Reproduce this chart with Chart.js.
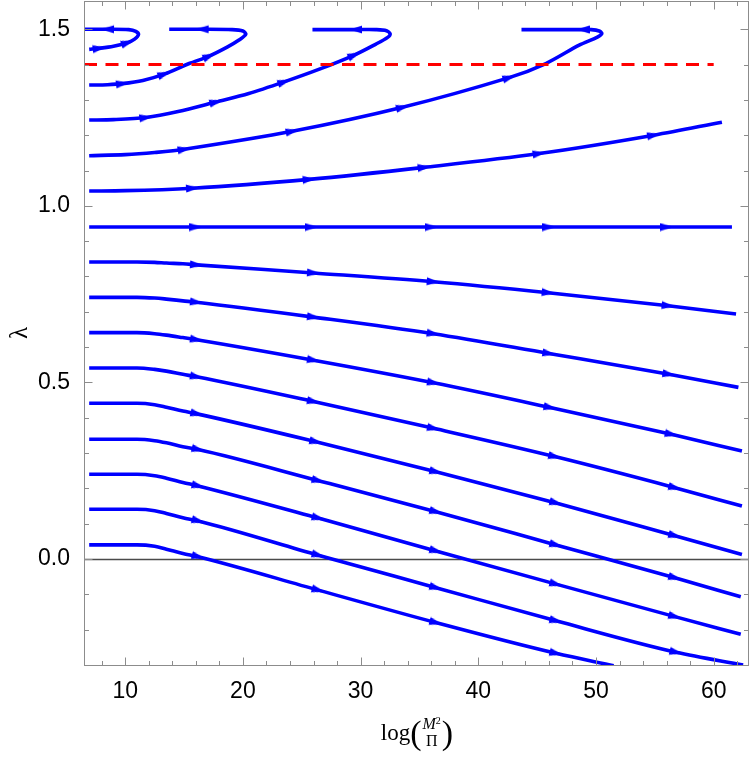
<!DOCTYPE html>
<html>
<head>
<meta charset="utf-8">
<script src="https://cdn.jsdelivr.net/npm/chart.js@4.4.1/dist/chart.umd.min.js"></script>
<style>
  html, body { margin: 0; padding: 0; background: #fff; }
  #wrap { position: relative; width: 750px; height: 757px; }
  #xlab {
    position: absolute; left: 417px; top: 716px; transform: translateX(-50%);
    display: flex; align-items: center; white-space: nowrap;
    font-family: 'Liberation Serif', serif; color: #000;
  }
  #xlab .lg { font-size: 23px; }
  #xlab .par { font-size: 34px; line-height: 1; }
  #xlab .frac { display: inline-flex; flex-direction: column; align-items: center; font-size: 16px; line-height: 1.05; margin: 0 1px; }
  #xlab sup { font-size: 10px; vertical-align: 5px; line-height: 0; }
</style>
</head>
<body>
<div id="wrap">
  <canvas id="flow"></canvas>
  <div id="xlab"><span class="lg">log</span><span class="par">(</span><span class="frac"><span><i>M</i><sup>2</sup></span><span>Π</span></span><span class="par">)</span></div>
</div>
<script>
// Axis ranges and labelled ticks
const xRange = [6.5, 63];
const yRange = [-0.3, 1.58];
const xLabelTicks = [10, 20, 30, 40, 50, 60];
const yLabelTicks = [0.0, 0.5, 1.0, 1.5];

// Red dashed reference line
const refX = [6.5, 60];
const refY = [1.4, 1.4];

// Stream lines, [log(M^2/Pi), lambda]
const s144 = [[6.94,1.443],[7.79,1.446],[9.0,1.452],[10.2,1.462],[10.8,1.472],[11.13,1.485],[10.9,1.494],[10.3,1.499],[8.5,1.500],[6.3,1.500]];
const s134 = [[6.94,1.342],[8.5,1.343],[9.77,1.346],[11.5,1.355],[13.31,1.373],[15.44,1.403],[17.14,1.424],[18.7,1.450],[19.7,1.470],[20.25,1.486],[20.0,1.495],[19.09,1.499],[16.54,1.500],[13.74,1.500]];
const s124 = [[6.94,1.243],[9,1.244],[11.76,1.250],[14.5,1.267],[17.71,1.294],[20.5,1.318],[23.5,1.351],[26.5,1.387],[29.46,1.427],[31.3,1.458],[32.3,1.477],[32.51,1.487],[32.2,1.496],[31.3,1.499],[29.6,1.499],[25.91,1.499]];
const s114 = [[6.94,1.142],[10,1.145],[12.5,1.151],[15.01,1.160],[24.19,1.211],[33.56,1.279],[42.62,1.363],[45.74,1.403],[48.57,1.455],[50.12,1.478],[50.5,1.488],[50.27,1.495],[49.6,1.499],[48.9,1.499],[43.67,1.499]];
const s104 = [[6.94,1.042],[10,1.043],[15.72,1.050],[25.63,1.075],[35.4,1.109],[45.17,1.148],[54.9,1.200],[60.7,1.237]];
const s094 = [[6.94,0.94],[16.0,0.94],[25.8,0.94],[36.0,0.94],[46.0,0.94],[56.0,0.94],[61.55,0.94]];
const s084 = [[6.94,0.841],[11.0,0.841],[12.5,0.840],[13.5,0.838],[14.9,0.836],[16.06,0.833],[26.0,0.810],[36.17,0.785],[45.94,0.754],[56.13,0.717],[61.9,0.694]];
const s074 = [[6.94,0.741],[11.0,0.741],[12.5,0.739],[13.5,0.736],[14.9,0.731],[16.06,0.727],[26.0,0.685],[36.17,0.638],[46.0,0.582],[56.2,0.523],[62.1,0.486]];
const s064 = [[6.94,0.641],[11.0,0.641],[12.5,0.638],[13.5,0.634],[14.9,0.627],[16.06,0.621],[26.0,0.563],[36.2,0.499],[46.1,0.429],[56.4,0.353],[62.4,0.306]];
const s054 = [[6.94,0.541],[11.0,0.541],[12.5,0.537],[13.5,0.532],[14.9,0.523],[16.06,0.516],[26.0,0.446],[36.2,0.370],[46.5,0.290],[56.7,0.202],[62.4,0.150]];
const s044 = [[6.94,0.441],[11.0,0.441],[12.5,0.437],[13.5,0.430],[14.9,0.419],[16.1,0.411],[26.2,0.332],[36.4,0.247],[46.6,0.159],[56.7,0.066],[62.4,0.013]];
const s034 = [[6.94,0.339],[11.0,0.339],[12.5,0.335],[13.5,0.329],[14.9,0.318],[16.2,0.310],[26.4,0.222],[36.4,0.134],[46.6,0.040],[56.7,-0.053],[62.3,-0.107]];
const s024 = [[6.94,0.240],[11.0,0.240],[12.5,0.236],[13.5,0.229],[14.9,0.217],[16.2,0.207],[26.4,0.116],[36.4,0.023],[46.6,-0.071],[56.7,-0.163],[62.3,-0.213]];
const s014 = [[6.94,0.141],[11.0,0.141],[12.5,0.137],[13.5,0.129],[14.9,0.117],[16.2,0.108],[26.4,0.011],[36.4,-0.081],[46.6,-0.175],[56.8,-0.264],[62.5,-0.300]];
const s004 = [[6.94,0.040],[11.0,0.040],[12.5,0.036],[13.5,0.028],[14.9,0.016],[16.2,0.0065],[26.4,-0.088],[36.4,-0.180],[46.6,-0.267],[51.5,-0.302]];

// Which points of each stream carry an arrowhead; curl = stream turns back
const streams = [
  { pts: s144, arrows: [1, 3, 8], curl: true },
  { pts: s134, arrows: [2, 4, 6, 12], curl: true },
  { pts: s124, arrows: [2, 4, 6, 8, 14], curl: true },
  { pts: s114, arrows: [3, 4, 5, 6, 13], curl: true },
  { pts: s104, arrows: [2, 3, 4, 5, 6] },
  { pts: s094, arrows: [1, 2, 3, 4, 5] },
  { pts: s084, arrows: [5, 6, 7, 8, 9] },
  { pts: s074, arrows: [5, 6, 7, 8, 9] },
  { pts: s064, arrows: [5, 6, 7, 8, 9] },
  { pts: s054, arrows: [5, 6, 7, 8, 9] },
  { pts: s044, arrows: [5, 6, 7, 8, 9] },
  { pts: s034, arrows: [5, 6, 7, 8, 9] },
  { pts: s024, arrows: [5, 6, 7, 8, 9] },
  { pts: s014, arrows: [5, 6, 7, 8, 9] },
  { pts: s004, arrows: [5, 6, 7, 8] }
];

const BLUE = '#0000ff';
const FRAME = '#8c8c8c';

// Arrowhead image, pointing right; rotated per point
function makeArrow() {
  const c = document.createElement('canvas');
  c.width = 13;
  c.height = 9;
  const g = c.getContext('2d');
  g.fillStyle = BLUE;
  g.beginPath();
  g.moveTo(0, 0.5);
  g.lineTo(13, 4.5);
  g.lineTo(0, 8.5);
  g.closePath();
  g.fill();
  return c;
}
const arrowImg = makeArrow();

function arrowAngle(ctx) {
  const pts = ctx.dataset.data;
  const i = ctx.dataIndex;
  const a = pts[Math.max(0, i - 1)];
  const b = pts[Math.min(pts.length - 1, i + 1)];
  const xs = ctx.chart.scales.x, ys = ctx.chart.scales.y;
  const dx = xs.getPixelForValue(b[0]) - xs.getPixelForValue(a[0]);
  const dy = ys.getPixelForValue(b[1]) - ys.getPixelForValue(a[1]);
  return Math.atan2(dy, dx) * 180 / Math.PI;
}

const isLabelled = (list, v) => list.some(t => Math.abs(t - v) < 1e-6);

// Frame with inward ticks on all four sides, plus the lambda = 0 axis
const framePlugin = {
  id: 'frame',
  beforeDatasetsDraw(chart) {
    const { ctx, chartArea: a, scales: { y } } = chart;
    const y0 = Math.round(y.getPixelForValue(0)) + 0.5;
    ctx.save();
    ctx.strokeStyle = '#4a4a4a';
    ctx.lineWidth = 1.3;
    ctx.beginPath();
    ctx.moveTo(a.left, y0);
    ctx.lineTo(a.right, y0);
    ctx.stroke();
    ctx.restore();
  },
  afterDraw(chart) {
    const { ctx, chartArea: a, scales: { x, y } } = chart;
    const L = Math.round(a.left) + 0.5, R = Math.round(a.right) - 0.5;
    const T = Math.round(a.top) + 0.5, B = Math.round(a.bottom) + 0.5;
    ctx.save();
    ctx.strokeStyle = FRAME;
    ctx.lineWidth = 1;
    ctx.strokeRect(L, T, R - L, B - T);
    ctx.beginPath();
    x.ticks.forEach(t => {
      const px = Math.round(x.getPixelForValue(t.value)) + 0.5;
      const len = isLabelled(xLabelTicks, t.value) ? 8 : 4.5;
      ctx.moveTo(px, B); ctx.lineTo(px, B - len);
      ctx.moveTo(px, T); ctx.lineTo(px, T + len);
    });
    y.ticks.forEach(t => {
      const py = Math.round(y.getPixelForValue(t.value)) + 0.5;
      const len = isLabelled(yLabelTicks, t.value) ? 8 : 4.5;
      ctx.moveTo(L, py); ctx.lineTo(L + len, py);
      ctx.moveTo(R, py); ctx.lineTo(R - len, py);
    });
    ctx.stroke();
    ctx.restore();
  }
};

const datasets = [{
  data: refX.map((x, i) => [x, refY[i]]),
  showLine: true,
  borderColor: '#ff0000',
  borderWidth: 3,
  borderDash: [13, 8.5],
  pointRadius: 0
}];

streams.forEach(s => {
  datasets.push({
    data: s.pts,
    showLine: true,
    borderColor: BLUE,
    borderWidth: 3.6,
    borderJoinStyle: 'round',
    tension: s.curl ? 0.3 : 0,
    cubicInterpolationMode: s.curl ? 'default' : 'monotone',
    pointRadius: ctx => s.arrows.includes(ctx.dataIndex) ? 5 : 0,
    pointStyle: ctx => s.arrows.includes(ctx.dataIndex) ? arrowImg : 'circle',
    rotation: arrowAngle,
    pointBorderWidth: 0,
    pointBackgroundColor: BLUE
  });
});

const tickFont = { family: "'Liberation Sans', Arial, sans-serif", size: 23 };

new Chart(document.getElementById('flow'), {
  type: 'scatter',
  data: { datasets },
  options: {
    responsive: true,
    maintainAspectRatio: false,
    animation: false,
    events: [],
    layout: { padding: { top: 1, right: 1, left: 0, bottom: 0 } },
    plugins: { legend: { display: false }, tooltip: { enabled: false } },
    scales: {
      x: {
        type: 'linear',
        min: xRange[0],
        max: xRange[1],
        grid: { display: false },
        border: { display: false },
        afterFit: scale => { scale.height = 92; scale.paddingLeft = 0; scale.paddingRight = 0; },
        ticks: {
          stepSize: 2,
          includeBounds: false,
          autoSkip: false,
          maxRotation: 0,
          padding: 5,
          color: '#000',
          font: tickFont,
          callback: v => isLabelled(xLabelTicks, v) ? String(Math.round(v)) : ''
        }
      },
      y: {
        type: 'linear',
        min: yRange[0],
        max: yRange[1],
        grid: { display: false },
        border: { display: false },
        afterFit: scale => { scale.width = 84; scale.paddingTop = 0; scale.paddingBottom = 0; },
        title: {
          display: true,
          text: 'λ',
          color: '#000',
          font: { family: "'Liberation Serif', serif", size: 25 },
          padding: { top: 5, bottom: 0 }
        },
        ticks: {
          stepSize: 0.1,
          includeBounds: false,
          autoSkip: false,
          padding: 6,
          color: '#000',
          font: tickFont,
          callback: v => isLabelled(yLabelTicks, v) ? (Math.abs(v) < 1e-9 ? 0 : v).toFixed(1) : ''
        }
      }
    }
  },
  plugins: [framePlugin]
});
</script>
</body>
</html>
